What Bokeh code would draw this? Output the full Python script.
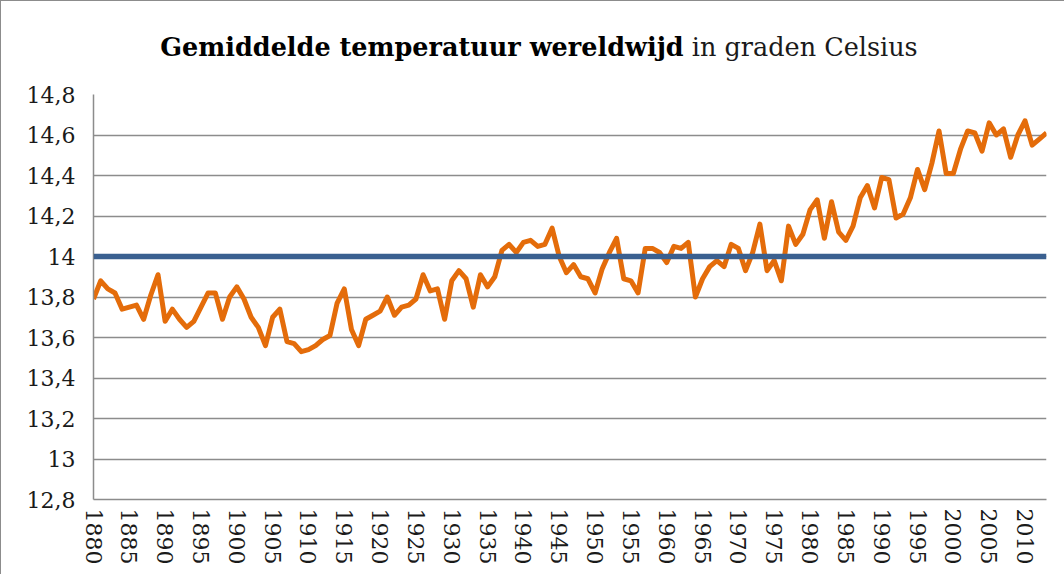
from bokeh.plotting import figure
from bokeh.models import Range1d, FixedTicker, CustomJSTickFormatter, Span, Div
from bokeh.layouts import column
from bokeh.embed import file_html
from bokeh.resources import INLINE

years = list(range(1880, 2014))
temperature = [
    13.79, 13.88, 13.84, 13.82, 13.74, 13.75, 13.76, 13.69, 13.81, 13.91,
    13.68, 13.74, 13.69, 13.65, 13.68, 13.75, 13.82, 13.82, 13.69, 13.80,
    13.85, 13.79, 13.70, 13.65, 13.56, 13.70, 13.74, 13.58, 13.57, 13.53,
    13.54, 13.56, 13.59, 13.61, 13.77, 13.84, 13.64, 13.56, 13.69, 13.71,
    13.73, 13.80, 13.71, 13.75, 13.76, 13.79, 13.91, 13.83, 13.84, 13.69,
    13.88, 13.93, 13.89, 13.75, 13.91, 13.85, 13.90, 14.03, 14.06, 14.02,
    14.07, 14.08, 14.05, 14.06, 14.14, 14.00, 13.92, 13.96, 13.90, 13.89,
    13.82, 13.94, 14.02, 14.09, 13.89, 13.88, 13.82, 14.04, 14.04, 14.02,
    13.97, 14.05, 14.04, 14.07, 13.80, 13.89, 13.95, 13.98, 13.95, 14.06,
    14.04, 13.93, 14.02, 14.16, 13.93, 13.98, 13.88, 14.15, 14.06, 14.11,
    14.23, 14.28, 14.09, 14.27, 14.12, 14.08, 14.15, 14.29, 14.35, 14.24,
    14.39, 14.38, 14.19, 14.21, 14.29, 14.43, 14.33, 14.46, 14.62, 14.41,
    14.41, 14.53, 14.62, 14.61, 14.52, 14.66, 14.60, 14.63, 14.49, 14.60,
    14.67, 14.55, 14.58, 14.61,
]
reference_value = 14.0
x_ticks = list(range(1880, 2011, 5))
y_ticks = [12.8, 13.0, 13.2, 13.4, 13.6, 13.8, 14.0, 14.2, 14.4, 14.6, 14.8]
title_bold = "Gemiddelde temperatuur wereldwijd"
title_light = "in graden Celsius"

FONT = "DejaVu Serif"
GRID = "#8c8c8c"

title = Div(
    text=('<div style="width:1048px;text-align:center;padding-top:23px;padding-left:18px;'
          'font-family:\'DejaVu Serif\';font-size:25.5px;color:#000;white-space:nowrap">'
          '<span style="font-weight:bold">' + title_bold + '</span> '
          '<span style="font-weight:normal;color:#1a1a1a">' + title_light + '</span></div>'),
    width=1060, height=63)

p = figure(width=1060, height=500, output_backend="svg", toolbar_location=None,
           x_range=Range1d(1880, 2013), y_range=Range1d(12.8, 14.8),
           min_border_left=92, min_border_right=15, min_border_top=20,
           min_border_bottom=75)
p.outline_line_color = None
p.background_fill_color = "white"
p.border_fill_color = "white"

p.xgrid.grid_line_color = None
p.ygrid.ticker = FixedTicker(ticks=y_ticks)
p.ygrid.grid_line_color = GRID
p.ygrid.grid_line_width = 1.5

p.yaxis.ticker = FixedTicker(ticks=y_ticks)
p.yaxis.formatter = CustomJSTickFormatter(code="""
var s = tick.toFixed(1);
if (s.endsWith('.0')) { s = s.slice(0, -2); }
return s.replace('.', ',');
""")
p.xaxis.ticker = FixedTicker(ticks=x_ticks)
p.xaxis.major_label_orientation = "vertical"

for ax in (p.xaxis, p.yaxis):
    ax.axis_line_color = GRID
    ax.axis_line_width = 1.5
    ax.major_tick_line_color = None
    ax.minor_tick_line_color = None
    ax.major_label_text_font = FONT
    ax.major_label_text_font_size = "22px"
    ax.major_label_text_color = "#1a1a1a"
p.yaxis.major_label_standoff = 12
p.xaxis.major_label_standoff = 3

p.add_layout(Span(location=reference_value, dimension="width",
                  line_color="#3a6090", line_width=5.5))
p.line(years, temperature, line_color="#e46c0a", line_width=5, line_join="round")

layout = column(title, p, spacing=0,
                styles={"border-left": "1.5px solid #8c8c8c",
                        "border-top": "1.5px solid #8c8c8c",
                        "border-right": "1.5px solid #8c8c8c"})

open("out.html", "w").write(file_html(layout, INLINE))
